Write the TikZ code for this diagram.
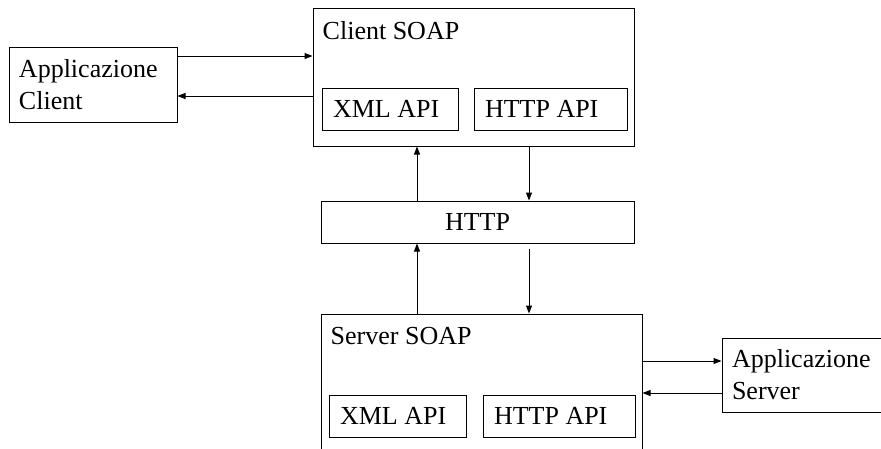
\documentclass[tikz,border=0pt]{standalone}
\usepackage{fontspec}
\setmainfont{Liberation Serif}
\usetikzlibrary{positioning,arrows.meta}

\begin{document}
\begin{tikzpicture}[x=1pt, y=1pt,
    font=\fontsize{26pt}{32pt}\selectfont,
    box/.style={draw, line width=1pt, inner sep=0pt},
    soap/.style={box, minimum width=321pt, minimum height=138pt},
    api/.style={box, inner xsep=11pt, text width=#1, align=flush left, minimum height=42pt},
    app/.style={box, inner xsep=10pt, text width=148pt, align=flush left, minimum height=75pt},
    title/.style={anchor=north west, inner sep=0pt, xshift=10pt, yshift=-14pt},
    flow/.style={line width=1pt, -{Triangle[length=8pt, width=6pt]}}]
    \useasboundingbox (0,0) rectangle (881,-448);

    \node[soap, label={[title]north west:Client SOAP}] (csoap) at (473.5,-77) {};
    \node[app, left=135pt of csoap, yshift=-7.5pt] (capp) {Applicazione\\Client};
    \node[api=114pt, above right=16pt and 9pt of csoap.south west] (cxml) {XML API};
    \node[api=131pt, right=15pt of cxml] (chttp) {HTTP API};

    \node[box, minimum width=313pt, minimum height=42pt, below=54pt of csoap, xshift=4pt] (http) {HTTP};

    \node[soap, label={[title]north west:Server SOAP}, below=70pt of http, xshift=4pt] (ssoap) {};
    \node[app, right=79pt of ssoap, yshift=8pt, minimum height=74pt] (sapp) {Applicazione\\Server};
    \node[api=115pt, above right=15pt and 8pt of ssoap.south west] (sxml) {XML API};
    \node[api=130pt, right=16pt of sxml] (shttp) {HTTP API};

    \draw[flow] ([yshift=28.5pt]capp.east) -- ([yshift=28.5pt]capp.east -| csoap.west);
    \draw[flow] ([yshift=-11.5pt]capp.east -| csoap.west) -- ([yshift=-11.5pt]capp.east);

    \draw[flow] ([xshift=-60.5pt]http.north) -- ([xshift=-60.5pt]http.north |- csoap.south);
    \draw[flow] ([xshift=51.5pt]http.north |- csoap.south) -- ([xshift=51.5pt]http.north);
    \draw[flow] ([xshift=-60.5pt]ssoap.north -| http.north) -- ([xshift=-60.5pt]http.south);
    \draw[flow, shorten <=5pt] ([xshift=51.5pt]http.south) -- ([xshift=51.5pt]http.south |- ssoap.north);

    \draw[flow] ([yshift=14pt]sapp.west -| ssoap.east) -- ([yshift=14pt]sapp.west);
    \draw[flow] ([yshift=-18pt]sapp.west) -- ([yshift=-18pt]sapp.west -| ssoap.east);
\end{tikzpicture}
\end{document}
